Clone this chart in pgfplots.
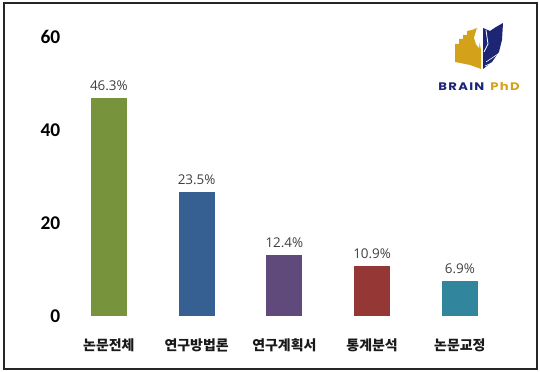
\documentclass[border=0pt]{standalone}
\usepackage{pgfplots}
\pgfplotsset{compat=1.18}
\usepackage{graphicx}
\usepackage{fontspec}
\setmainfont{Noto Sans CJK KR}
\newfontfamily\carlito{Carlito}
\newfontfamily\labfont{Open Sans}
\newfontfamily\logofont[LetterSpace=10]{Poppins}
\definecolor{cGreen}{HTML}{77933C}
\definecolor{cBlue}{HTML}{376092}
\definecolor{cPurple}{HTML}{604A7B}
\definecolor{cRed}{HTML}{953735}
\definecolor{cTeal}{HTML}{31859C}
\definecolor{navy}{HTML}{1C2674}
\definecolor{gold}{HTML}{D4A21A}
\begin{document}
\begin{tikzpicture}
\path[use as bounding box] (0,0) rectangle (540bp,372bp);
\draw[line width=1.3bp, black!85] (4bp,3bp) rectangle (537bp,369bp);
\begin{axis}[
  at={(65bp,56bp)}, anchor=south west,
  scale only axis, width=438.75bp, height=279bp,
  xmin=-0.5, xmax=4.5, ymin=0, ymax=60,
  axis line style={draw=none}, major tick length=0pt,
  ytick={0,20,40,60},
  xtick={0,1,2,3,4},
  xticklabels={논문전체,연구방법론,연구계획서,통계분석,논문교정},
  /pgf/number format/assume math mode=true,
  yticklabel style={font=\carlito\bfseries\fontsize{19.5}{19.5}\selectfont, anchor=east, inner sep=0pt, xshift=-4.5bp, text=black},
  xticklabel style={font=\bfseries\fontsize{14}{14}\selectfont, anchor=center, inner sep=0pt, yshift=-29bp, text=black!90},
  ybar, bar width=36bp, bar shift=0pt,
  nodes near coords={\labfont\fontsize{13.5}{13.5}\selectfont\pgfplotspointmeta\%},
  point meta=explicit symbolic,
  every node near coord/.style={anchor=center, yshift=12.5bp, text=black!75, inner sep=0pt},
  clip=false,
]
\addplot[fill=cGreen, draw=none] coordinates {(0,46.9) [46.3]};
\addplot[fill=cBlue, draw=none] coordinates {(1,26.6) [23.5]};
\addplot[fill=cPurple, draw=none] coordinates {(2,13.1) [12.4]};
\addplot[fill=cRed, draw=none] coordinates {(3,10.8) [10.9]};
\addplot[fill=cTeal, draw=none] coordinates {(4,7.5) [6.9]};
\end{axis}
\begin{scope}[shift={(0bp,372bp)}, x=1bp, y=-1bp]
  \fill[gold] (455,44) -- (459,44) -- (459,39) -- (463,39) -- (463,35) -- (467,35) -- (467,31) -- (472,30) -- (477,28) -- (479,40) -- (481,50) -- (481,69) -- (470,65) -- (455,62) -- cycle;
  \fill[white] (477,28) -- (474,38) -- (476,44) -- (479,48) -- (480,40) -- cycle;
  \fill[navy] (483,28) -- (490,31) -- (496,27) -- (503,23) -- (502,40) -- (499,52) -- (492,62) -- (483,69) -- cycle;
  \draw[white, line width=0.8] (486,30) -- (488,44) -- (484,52);
  \draw[white, line width=0.6] (486,62) .. controls (492,58) .. (501,52);
  \draw[white, line width=0.6] (485,66) .. controls (492,63) .. (501,58);
  \node[inner sep=0pt, anchor=center] at (479,86) {\scalebox{1.2}[1]{\logofont\bfseries\fontsize{11}{11}\selectfont\textcolor{navy}{BRAIN}\hspace{5bp}\textcolor{gold}{PhD}}};
\end{scope}
\end{tikzpicture}
\end{document}
